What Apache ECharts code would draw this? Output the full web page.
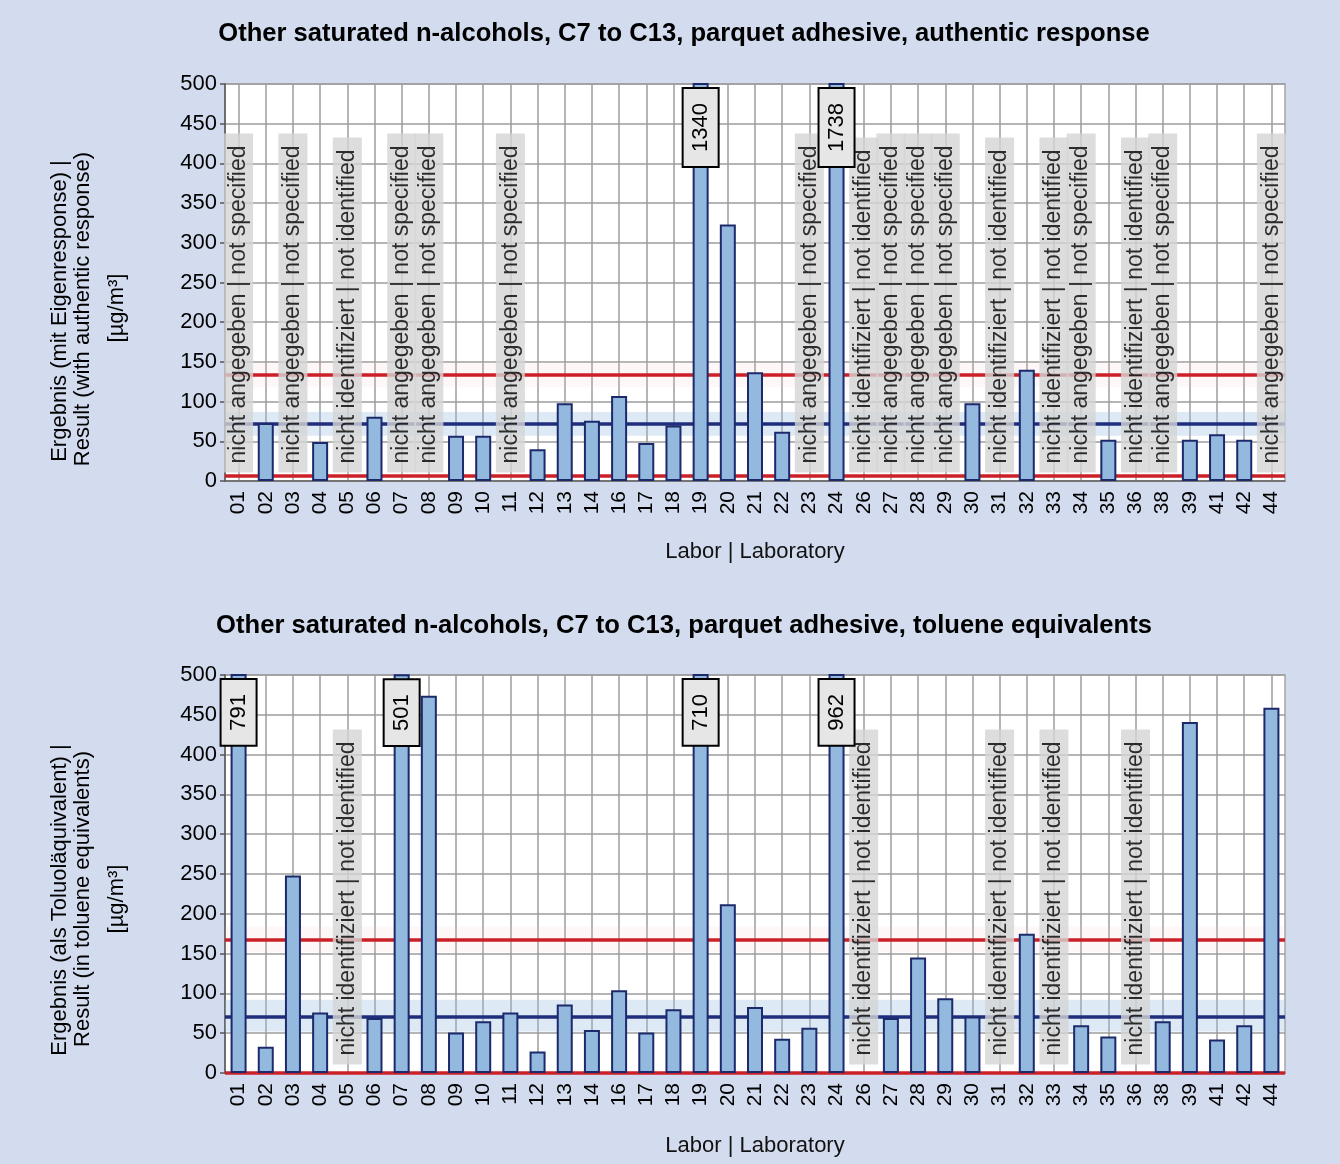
<!DOCTYPE html>
<html><head><meta charset="utf-8">
<script src="https://cdn.jsdelivr.net/npm/echarts@6/dist/echarts.min.js"></script>
<style>html,body{margin:0;padding:0;background:#d3dcef}#c{width:1340px;height:1164px}</style>
</head><body><div id="c"></div>
<script>
// ---------- data ----------
const labs = ['01','02','03','04','05','06','07','08','09','10','11','12','13','14','16','17','18','19','20','21','22','23','24','26','27','28','29','30','31','32','33','34','35','36','38','39','41','42','44'];

const NS = 'nicht angegeben | not specified';
const NI = 'nicht identifiziert | not identified';

// authentic response (µg/m³); null = no value reported
const topValues = [null,73,null,49,null,81,null,null,57,57,null,40,98,76,107,48,70,1340,323,137,62,null,1738,null,null,null,null,98,null,140,null,null,52,null,null,52,59,52,null];
const topStatus = [NS,'',NS,'',NI,'',NS,NS,'','',NS,'','','','','','','','','','',NS,'',NI,NS,NS,NS,'',NI,'',NI,NS,'',NI,NS,'','','',NS];

// toluene equivalents (µg/m³)
const bottomValues = [791,33,248,76,null,69,501,474,51,65,76,27,86,54,104,51,80,710,212,83,43,57,962,null,69,145,94,71,null,175,null,60,46,null,65,441,42,60,459];
const bottomStatus = ['','','','',NI,'','','','','','','','','','','','','','','','','','',NI,'','','','',NI,'',NI,'','',NI,'','','','',''];

// reference values: [lower limit, assigned value, upper limit]
const topLimits = [7, 72, 133.5];
const bottomLimits = [0, 71, 168];
// uncertainty bands around assigned value / upper limit
const topBlueBand = [57, 87];
const topRedBand = [118, 150];
const bottomBlueBand = [52, 92];
const bottomRedBand = [152, 184];

const titles = [
  'Other saturated n-alcohols, C7 to C13, parquet adhesive, authentic response',
  'Other saturated n-alcohols, C7 to C13, parquet adhesive, toluene equivalents'
];
const yNames = [
  ['Ergebnis (mit Eigenresponse) |', 'Result (with authentic response)', '[µg/m³]'],
  ['Ergebnis (als Toluoläquivalent) |', 'Result (in toluene equivalents)', '[µg/m³]']
];
const xName = 'Labor | Laboratory';
const yMax = 500, yInterval = 50;

// ---------- chart ----------
const FONT = '"Liberation Sans", Arial, sans-serif';
const RED = '#cc2029', BLUE = '#1f2e7c';
const grids = [
  {left: 225, top: 84, width: 1060, height: 397},
  {left: 225, top: 675, width: 1060, height: 398}
];

function axesFor(i) {
  return {
    x: {
      type: 'category', gridIndex: i, data: labs, boundaryGap: true,
      axisTick: {alignWithLabel: true, interval: 0, length: 6, lineStyle: {color: '#6f6f6f', width: 1.5}},
      axisLine: {lineStyle: {color: '#666', width: 1.5}},
      axisLabel: {rotate: 90, interval: 0, fontSize: 21, color: '#000', margin: 10, fontFamily: FONT},
      splitLine: {show: true, alignWithLabel: true, interval: 0, lineStyle: {color: '#9c9c9c', width: 1.5}},
      name: xName, nameLocation: 'middle', nameGap: i === 0 ? 60 : 62,
      nameTextStyle: {fontSize: 22, color: '#111', fontFamily: FONT}
    },
    y: {
      type: 'value', gridIndex: i, min: 0, max: yMax, interval: yInterval,
      axisLine: {show: true, lineStyle: {color: '#555', width: 1.5}},
      axisTick: {show: true, length: 5, lineStyle: {color: '#555', width: 1.5}},
      axisLabel: {fontSize: 22, color: '#000', margin: 8, fontFamily: FONT},
      splitLine: {lineStyle: {color: '#9c9c9c', width: 1.5}}
    }
  };
}

function seriesFor(i, values, status, limits, blueBand, redBand) {
  const barData = values.map(v => v == null ? null : (v > yMax ? {value: v, label: {show: true}} : v));
  const boxData = [];
  status.forEach((s, k) => { if (s) boxData.push({value: [labs[k], 0], name: s}); });
  return [
    {
      type: 'line', xAxisIndex: i, yAxisIndex: i, data: [], silent: true,
      markArea: {
        silent: true, z: 1,
        data: [
          [{yAxis: blueBand[0], itemStyle: {color: 'rgba(150,190,228,0.32)'}}, {yAxis: blueBand[1]}],
          [{yAxis: redBand[0], itemStyle: {color: 'rgba(240,190,195,0.12)'}}, {yAxis: redBand[1]}]
        ]
      },
      markLine: {
        silent: true, symbol: 'none', z: 2, label: {show: false}, animation: false,
        data: [
          {yAxis: limits[0], lineStyle: {color: RED, width: 3.5, type: 'solid'}},
          {yAxis: limits[1], lineStyle: {color: BLUE, width: 3.5, type: 'solid'}},
          {yAxis: limits[2], lineStyle: {color: RED, width: 3.5, type: 'solid'}}
        ]
      }
    },
    {
      type: 'scatter', xAxisIndex: i, yAxisIndex: i, data: boxData, z: 3, silent: true,
      symbolSize: 1, itemStyle: {color: 'rgba(0,0,0,0)'},
      label: {
        show: true, formatter: '{b}', position: 'top', distance: 8, rotate: 90,
        align: 'left', verticalAlign: 'middle', fontSize: 23, lineHeight: 23, color: '#000',
        fontFamily: FONT, backgroundColor: '#d5d5d5', padding: [3, 12, 3, 9]
      }
    },
    {
      type: 'bar', xAxisIndex: i, yAxisIndex: i, data: barData, z: 4, barWidth: 16, silent: true,
      itemStyle: {color: '#93b9de', borderColor: '#1c2a6c', borderWidth: 2},
      label: {
        show: false, position: 'insideTop', distance: 6, rotate: 90, align: 'right', verticalAlign: 'middle',
        formatter: '{c}', fontSize: 22, lineHeight: 24, color: '#000', fontFamily: FONT,
        backgroundColor: '#e6e6e6', borderColor: '#000', borderWidth: 2, padding: [5, 14, 5, 14]
      }
    }
  ];
}

const a0 = axesFor(0), a1 = axesFor(1);
const graphics = [];
titles.forEach((t, i) => {
  graphics.push({type: 'text', x: 684, y: i === 0 ? 34 : 626, silent: true,
    style: {text: t, font: 'bold 25.6px ' + FONT, fill: '#000', align: 'center', verticalAlign: 'middle'}});
});
const nameX = [60, 83, 117];
const nameY = [[311, 309, 308], [900, 899, 899]];
yNames.forEach((lines, i) => {
  lines.forEach((t, k) => {
    graphics.push({type: 'text', x: nameX[k], y: nameY[i][k], rotation: Math.PI / 2, silent: true,
      style: {text: t, font: '22px ' + FONT, fill: '#000', align: 'center', verticalAlign: 'middle'}});
  });
});

const option = {
  backgroundColor: '#d3dcef',
  animation: false,
  textStyle: {fontFamily: FONT},
  grid: grids.map(g => Object.assign({show: true, backgroundColor: '#fff', borderColor: '#a5a5a5', borderWidth: 1.5}, g)),
  xAxis: [a0.x, a1.x],
  yAxis: [a0.y, a1.y],
  graphic: graphics,
  series: [
    ...seriesFor(0, topValues, topStatus, topLimits, topBlueBand, topRedBand),
    ...seriesFor(1, bottomValues, bottomStatus, bottomLimits, bottomBlueBand, bottomRedBand)
  ]
};
const chart = echarts.init(document.getElementById('c'), null, {renderer: 'canvas'});
chart.setOption(option);
</script>
</body></html>
